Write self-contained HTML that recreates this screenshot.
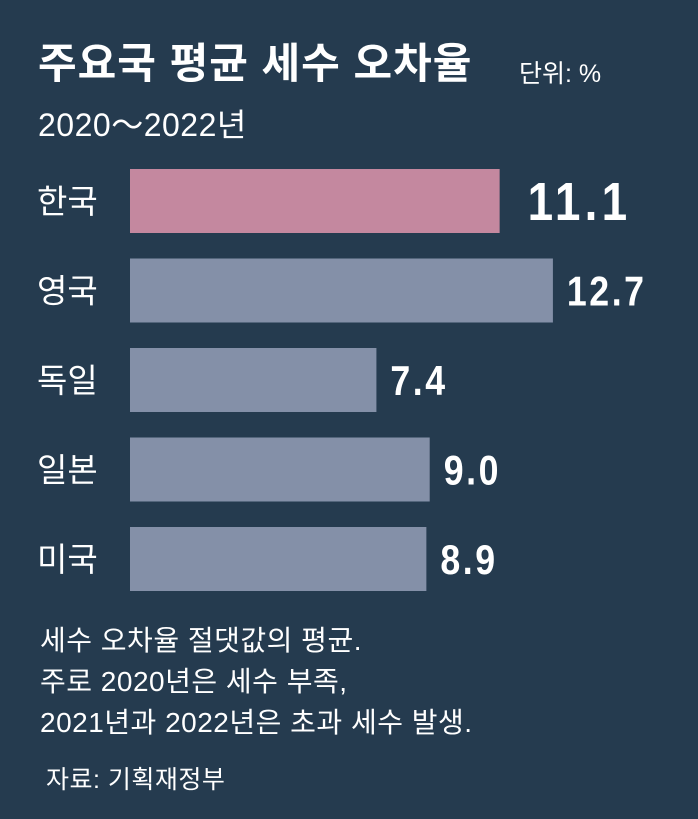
<!DOCTYPE html>
<html><head><meta charset="utf-8"><style>
body{margin:0;width:698px;height:819px;background:#253b4f;overflow:hidden;font-family:"Liberation Sans","Noto Sans CJK KR",sans-serif;color:#fff}
.t{position:absolute;white-space:nowrap}
</style></head><body>
<div class="t" style="left:38px;top:30px;font-size:42px;font-weight:bold;letter-spacing:1px">주요국 평균 세수 오차율</div>
<div class="t" style="left:519px;top:54px;font-size:25px">단위: %</div>
<div class="t" style="left:38px;top:100px;font-size:32px;letter-spacing:0.5px">2020～2022년</div>
<svg id="chart" width="698" height="620" style="position:absolute;left:0;top:0"></svg>
<div class="t" style="left:40px;top:620px;font-size:28px;line-height:41px;letter-spacing:0.5px">세수 오차율 절댓값의 평균.<br>주로 2020년은 세수 부족,<br>2021년과 2022년은 초과 세수 발생.</div>
<div class="t" style="left:46px;top:760px;font-size:25px;letter-spacing:0.5px">자료: 기획재정부</div>
<script>
const categories=["한국","영국","독일","일본","미국"];
const values=[11.1,12.7,7.4,9.0,8.9];
const labels=["11.1","12.7","7.4","9.0","8.9"];
const svg=document.getElementById('chart');
const NS='http://www.w3.org/2000/svg';
const x0=130,scale=33.3,y0=169,pitch=89.5,h=64;
const xs=v=>x0+v*scale;
categories.forEach((c,i)=>{
 const y=y0+i*pitch;
 const r=document.createElementNS(NS,'rect');
 r.setAttribute('x',x0);r.setAttribute('y',y);r.setAttribute('width',xs(values[i])-x0);r.setAttribute('height',h);
 r.setAttribute('fill',i===0?'#c4889f':'#8490a8');
 
 
 svg.appendChild(r);
 const t=document.createElementNS(NS,'text');
 t.setAttribute('x',37);t.setAttribute('y',y+h/2+12);t.setAttribute('fill','#fff');t.setAttribute('font-size','33');
 t.setAttribute('font-family','"Liberation Sans","Noto Sans CJK KR",sans-serif');
 t.textContent=c;
 
 
 svg.appendChild(t);
 const v=document.createElementNS(NS,'text');
 const vx=xs(values[i])+(i===0?28:14);
 v.setAttribute('x',vx);v.setAttribute('y',y+h/2+(i===0?19:15));v.setAttribute('fill','#fff');
 v.setAttribute('font-size',i===0?'54':'42');v.setAttribute('font-weight','bold');
 v.setAttribute('letter-spacing',i===0?'5':'3');
 v.setAttribute('font-family','"Liberation Sans",sans-serif');
 v.setAttribute('transform','translate('+vx+',0) scale(0.85,1) translate('+(-vx)+',0)');
 v.textContent=labels[i];
 
 
 svg.appendChild(v);
});
</script>
</body></html>
